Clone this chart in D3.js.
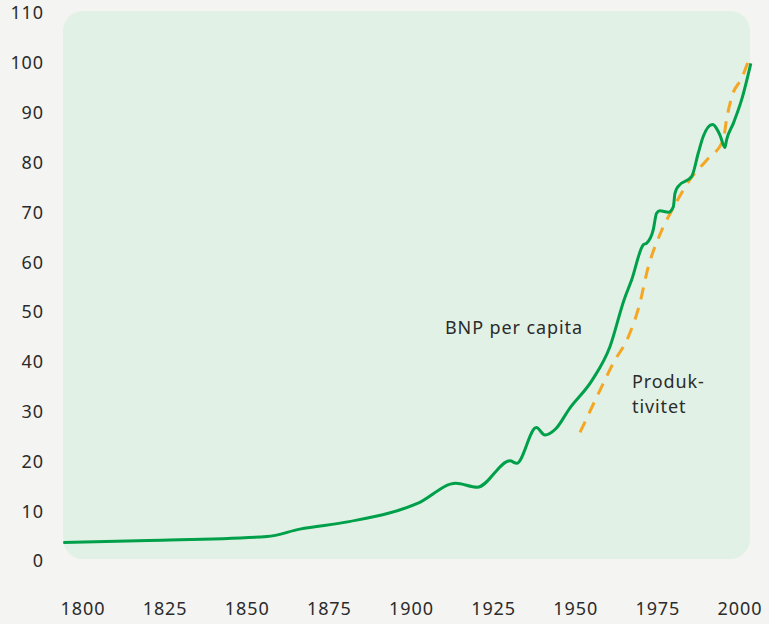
<!DOCTYPE html>
<html>
<head>
<meta charset="utf-8">
<script src="https://cdn.jsdelivr.net/npm/d3@7"></script>
<style>
  body { margin: 0; background: #f4f4f2; }
  svg { display: block; font-family: "Noto Sans", Lato, sans-serif; }
</style>
</head>
<body>
<div id="root"></div>
<script>
// BNP per capita (index, 2000 ~ 100)
const bnpYears = [1794, 1820, 1856, 1866, 1881, 1902, 1913.5, 1920, 1930, 1932, 1938, 1940.6, 1944, 1948, 1955, 1960.4, 1964.7, 1967, 1970.6, 1971.6, 1973.6, 1974.6, 1975.6, 1978.2, 1979.7, 1980.2, 1981.2, 1985.3, 1987.3, 1988.8, 1991.6, 1993.9, 1995.4, 1995.9, 1998, 2000.5, 2003.3];
const bnpValues = [3.7, 4.1, 4.9, 6.4, 7.9, 11.6, 15.6, 14.8, 20.1, 19.6, 26.8, 25.3, 26.6, 30.5, 36.3, 43.0, 52.4, 56.4, 63.5, 63.8, 66.5, 69.8, 70.3, 70.0, 71.1, 73.8, 75.2, 77.2, 81.9, 85.2, 87.6, 85.5, 83.0, 84.5, 87.9, 92.6, 99.9];

// Produktivitet
const prodYears = [1951.3, 1957.4, 1961.4, 1966, 1969.3, 1972.1, 1975.6, 1980.2, 1984.7, 1989.9, 1994.9, 1995.9, 1997.5, 2000.5, 2002.5];
const prodValues = [25.8, 34.3, 39.7, 45.0, 51.2, 59.1, 65.5, 71.5, 76.5, 80.5, 84.5, 88.6, 93.2, 96.9, 100.3];

const xTicks = [1800, 1825, 1850, 1875, 1900, 1925, 1950, 1975, 2000];
const yTicks = [0, 10, 20, 30, 40, 50, 60, 70, 80, 90, 100, 110];

const width = 769, height = 624;
const fontSize = 18, spacing = "0.9px";

const x = d3.scaleLinear().domain([1800, 2000]).range([83, 740]);
const y = d3.scaleLinear().domain([0, 110]).range([561, 13]);

const svg = d3.select("#root").append("svg")
  .attr("width", width)
  .attr("height", height);

svg.append("rect")
  .attr("width", width).attr("height", height)
  .attr("fill", "#f4f4f2");

// plot panel
svg.append("rect")
  .attr("x", 63).attr("y", 11)
  .attr("width", 687).attr("height", 548)
  .attr("rx", 20)
  .attr("fill", "#e1f1e6");

// y labels
svg.append("g")
  .selectAll("text")
  .data(yTicks)
  .enter()
  .append("text")
  .attr("x", 44)
  .attr("y", d => y(d))
  .attr("dy", "0.36em")
  .attr("text-anchor", "end")
  .attr("font-size", fontSize)
  .attr("letter-spacing", spacing)
  .attr("fill", "#2b2b2b")
  .text(d => d);

// x labels
svg.append("g")
  .selectAll("text")
  .data(xTicks)
  .enter()
  .append("text")
  .attr("x", d => x(d))
  .attr("y", 609)
  .attr("dy", "0.36em")
  .attr("text-anchor", "middle")
  .attr("font-size", fontSize)
  .attr("letter-spacing", spacing)
  .attr("fill", "#2b2b2b")
  .text(d => d);

const line = d3.line()
  .x(d => x(d[0]))
  .y(d => y(d[1]))
  .curve(d3.curveMonotoneX);

svg.append("path")
  .datum(d3.zip(prodYears, prodValues))
  .attr("d", line)
  .attr("fill", "none")
  .attr("stroke", "#f5a623")
  .attr("stroke-width", 3)
  .attr("stroke-dasharray", "12,9");

svg.append("path")
  .datum(d3.zip(bnpYears, bnpValues))
  .attr("d", line)
  .attr("fill", "none")
  .attr("stroke", "#00a04a")
  .attr("stroke-width", 3);

// annotations
svg.append("text")
  .attr("x", 445).attr("y", 334)
  .attr("font-size", fontSize)
  .attr("letter-spacing", spacing)
  .attr("fill", "#2b2b2b")
  .text("BNP per capita");

const prod = svg.append("text")
  .attr("x", 632).attr("y", 388)
  .attr("font-size", fontSize)
  .attr("letter-spacing", spacing)
  .attr("fill", "#2b2b2b");
prod.append("tspan").attr("x", 632).text("Produk-");
prod.append("tspan").attr("x", 632).attr("dy", 25).text("tivitet");
</script>
</body>
</html>
